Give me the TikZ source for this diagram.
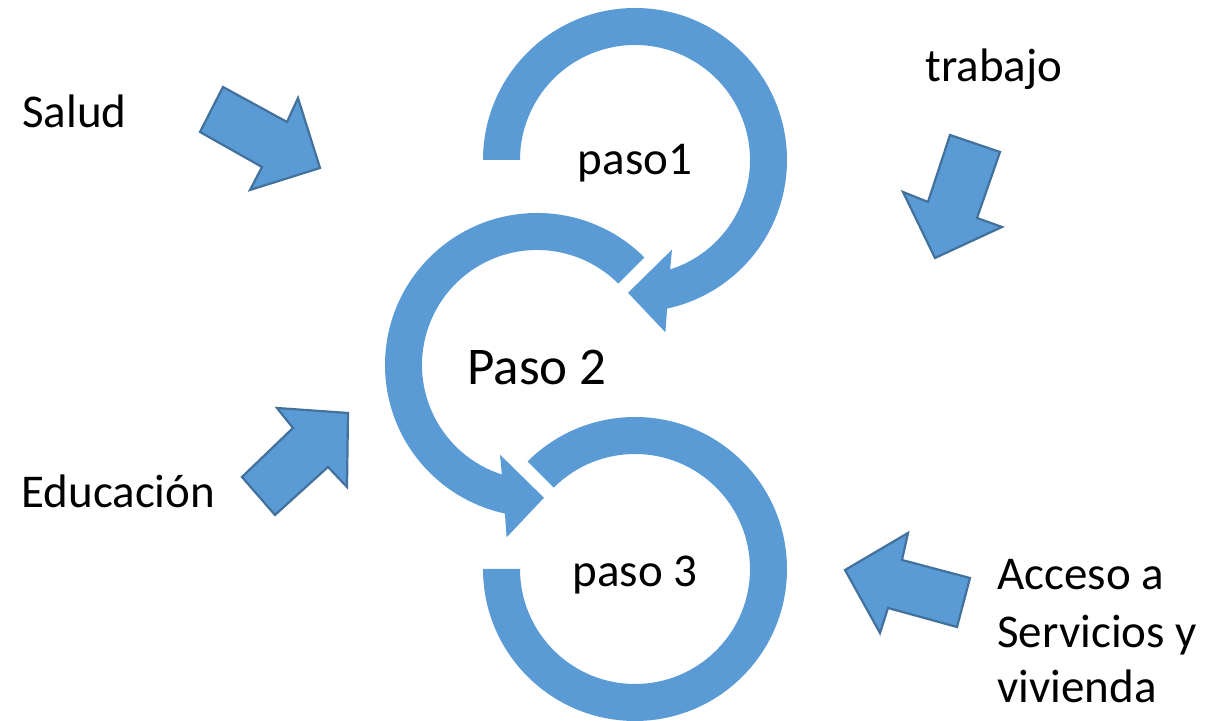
\documentclass[tikz,border=0pt]{standalone}
\usepackage{fontspec}
\setmainfont{Carlito}
\usetikzlibrary{calc}
\definecolor{ringblue}{HTML}{5B9BD5}
\definecolor{edgeblue}{HTML}{41719C}
\tikzset{
  ring/.style={fill=ringblue, draw=none},
  blockarrow/.style={fill=ringblue, draw=edgeblue, line width=1.1pt, line join=miter},
  lbl/.style={inner sep=0pt, anchor=base west, font=\fontsize{23.5}{28.5}\selectfont},
  steplbl/.style={inner sep=0pt, anchor=base, font=\fontsize{23.5}{28.5}\selectfont},
}
\begin{document}
\begin{tikzpicture}[x=0.5pt,y=0.5pt]
\useasboundingbox (0,0) rectangle (1223,721);
\coordinate (C1) at (635,561);
\coordinate (C2) at (537,356);
\coordinate (C3) at (635,152);
% circular arrow 1
\fill[ring] ($(C1)+(180:152)$) arc[start angle=180, end angle=-77.8, radius=152]
  -- ($(C1)+(-80:175)$) -- ($(C1)+(-93:133)$) -- ($(C1)+(-67.6:97)$)
  -- ($(C1)+(-72.2:115)$) arc[start angle=-72.2, end angle=180, radius=115] -- cycle;
% circular arrow 2
\fill[ring] ($(C2)+(45:152)$) arc[start angle=45, end angle=257.8, radius=152]
  -- ($(C2)+(260:175)$) -- ($(C2)+(273:133)$) -- ($(C2)+(247.6:97)$)
  -- ($(C2)+(252.2:115)$) arc[start angle=252.2, end angle=45, radius=115] -- cycle;
% circular arrow 3
\fill[ring] ($(C3)+(180:152)$) arc[start angle=180, end angle=495, radius=152]
  -- ($(C3)+(135:115)$) arc[start angle=495, end angle=180, radius=115] -- cycle;
% block arrows
\draw[blockarrow] (223,634) -- (287,599) -- (298,623) -- (320,553) -- (250,531) -- (262,554) -- (200,589) -- cycle;
\draw[blockarrow] (277,313) -- (348,308) -- (347,234) -- (328,254) -- (275,206) -- (242,244) -- (293,293) -- cycle;
\draw[blockarrow] (950,586) -- (1000,569) -- (977,503) -- (1002,494) -- (935,463) -- (903,529) -- (928,519) -- cycle;
\draw[blockarrow] (845,151) -- (908,188) -- (902,161) -- (970,143) -- (957,94) -- (888,113) -- (880,88) -- cycle;
% labels
\node[steplbl] (p1) at (635,546) {paso1};
\node[steplbl, font=\fontsize{26.5}{31}\selectfont] (p2) at (537,336) {Paso 2};
\node[steplbl] (p3) at (635,134) {paso 3};
\node[lbl] (salud) at (22,593) {Salud};
\node[lbl] (trab) at (925,639) {trabajo};
\node[lbl] (edu) at (21,213) {Educación};
\node[lbl] (acc1) at (997,131) {Acceso a};
\node[lbl] (acc2) at (997,73) {Servicios y};
\node[lbl] (acc3) at (997,18) {vivienda};
\end{tikzpicture}
\end{document}
